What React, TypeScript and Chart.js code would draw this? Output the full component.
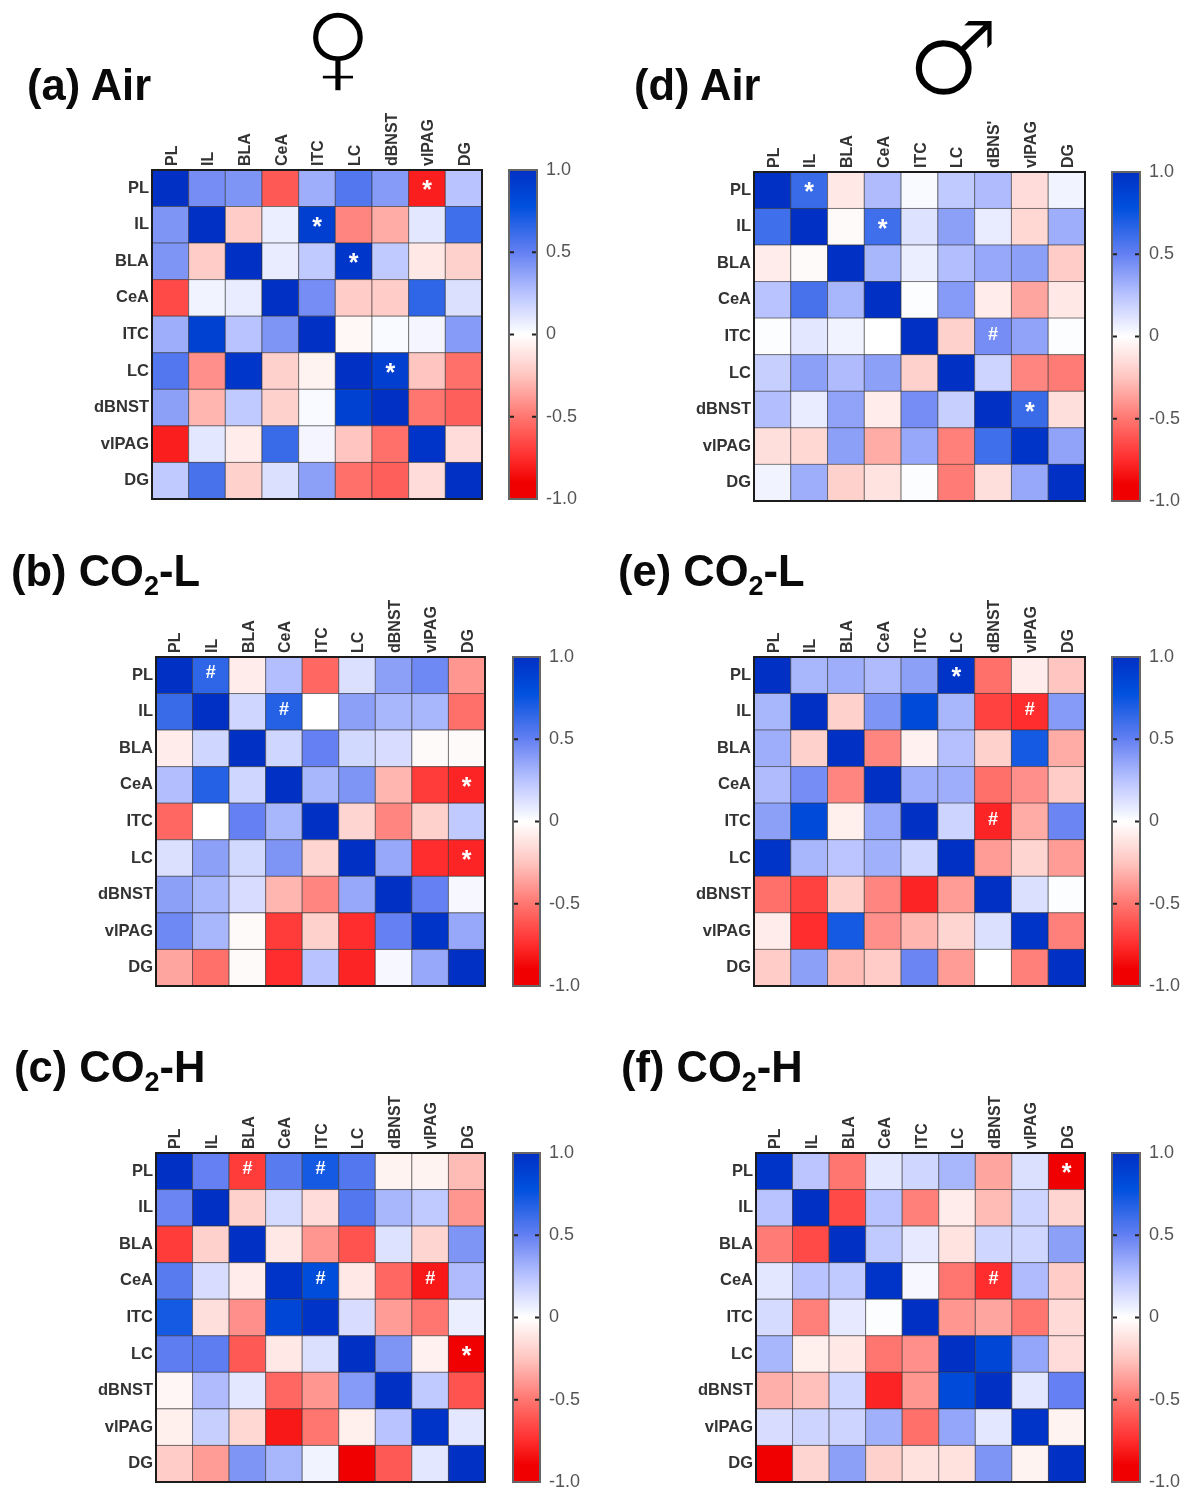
import React, { useEffect, useRef } from "react";
import { Chart, registerables } from "chart.js";

Chart.register(...registerables);

const regions = ["PL", "IL", "BLA", "CeA", "ITC", "LC", "dBNST", "vlPAG", "DG"];
const regionsTopD = ["PL", "IL", "BLA", "CeA", "ITC", "LC", "dBNS'", "vlPAG", "DG"];

const femaleAir = [
  [1, .45, .42, -.6, .33, .55, .4, -.8, .25],
  [.42, 1, -.22, .07, .9, -.45, -.33, .1, .6],
  [.42, -.22, 1, .08, .22, .95, .22, -.1, -.2],
  [-.65, .05, .08, 1, .45, -.22, -.22, .65, .13],
  [.33, .88, .25, .42, 1, -.03, .02, .04, .4],
  [.55, -.42, .95, -.2, -.05, 1, .9, -.25, -.52],
  [.38, -.3, .22, -.2, .02, .88, 1, -.5, -.58],
  [-.8, .1, -.08, .62, .04, -.25, -.52, .97, -.15],
  [.22, .58, -.2, .13, .38, -.52, -.58, -.15, 1],
];
const femaleLow = [
  [1, .65, -.08, .27, -.55, .13, .38, .47, -.4],
  [.62, 1, .17, .68, 0, .38, .3, .3, -.52],
  [-.08, .17, 1, .17, .5, .16, .14, -.02, -.02],
  [.27, .68, .17, 1, .3, .42, -.3, -.7, -.78],
  [-.55, 0, .5, .3, 1, -.18, -.45, -.2, .22],
  [.13, .38, .16, .42, -.18, 1, .35, -.75, -.78],
  [.38, .3, .14, -.3, -.45, .35, 1, .5, .03],
  [.47, .3, -.02, -.7, -.2, -.75, .5, .97, .35],
  [-.35, -.52, -.02, -.75, .25, -.78, .03, .35, 1],
];
const femaleHigh = [
  [1, .5, -.7, .53, .72, .55, -.05, -.05, -.28],
  [.48, 1, -.2, .15, -.15, .55, .3, .22, -.4],
  [-.7, -.2, 1, -.1, -.4, -.62, .12, -.18, .42],
  [.53, .14, -.08, .97, .8, -.1, -.55, -.82, .28],
  [.72, -.14, -.42, .85, .97, .14, -.38, -.5, .07],
  [.52, .52, -.6, -.1, .13, 1, .42, -.06, -1],
  [-.04, .28, .1, -.55, -.4, .4, 1, .22, -.62],
  [-.07, .2, -.17, -.82, -.5, -.07, .25, .97, .1],
  [-.22, -.38, .42, .3, .05, -1, -.6, .1, 1],
];
const maleAir = [
  [1, .62, -.1, .28, .02, .22, .28, -.15, .05],
  [.6, 1, -.02, .6, .12, .38, .08, -.17, .33],
  [-.08, -.02, 1, .3, .07, .27, .35, .38, -.22],
  [.25, .58, .3, 1, .01, .4, -.08, -.35, -.1],
  [.01, .1, .05, 0, 1, -.2, .45, .37, .01],
  [.2, .38, .28, .38, -.2, 1, .18, -.45, -.48],
  [.27, .08, .37, -.08, .45, .2, 1, .62, -.14],
  [-.14, -.17, .38, -.33, .35, -.47, .6, .97, .37],
  [.05, .33, -.2, -.12, .01, -.48, -.14, .35, 1],
];
const maleLow = [
  [1, .3, .33, .28, .38, .97, -.52, -.08, -.25],
  [.3, 1, -.2, .42, .82, .3, -.68, -.75, .4],
  [.33, -.2, 1, -.45, -.06, .26, -.2, .72, -.33],
  [.28, .45, -.45, 1, .33, .33, -.52, -.42, -.22],
  [.38, .82, -.07, .35, 1, .18, -.78, -.33, .48],
  [.97, .3, .24, .32, .17, 1, -.38, -.18, -.38],
  [-.52, -.68, -.2, -.45, -.78, -.38, 1, .13, .01],
  [-.08, -.75, .72, -.42, -.3, -.18, .13, .97, -.47],
  [-.22, .38, -.28, -.22, .48, -.38, 0, -.47, 1],
];
const maleHigh = [
  [.97, .24, -.5, .1, .17, .3, -.35, .13, -.97],
  [.25, 1, -.65, .25, -.47, -.08, -.28, .18, -.18],
  [-.48, -.65, 1, .22, .09, -.12, .17, .17, .38],
  [.1, .25, .22, .97, .03, -.5, -.75, .28, -.22],
  [.15, -.47, .09, .01, 1, -.4, -.35, -.5, -.16],
  [.3, -.07, -.1, -.5, -.42, 1, .85, .36, -.15],
  [-.32, -.27, .17, -.78, -.4, .82, 1, .1, .5],
  [.14, .18, .18, .32, -.52, .36, .1, .97, -.05],
  [-1, -.18, .38, -.2, -.13, -.13, .42, -.05, 1],
];

type Mark = [number, number, string];
const marksA: Mark[] = [[0, 7, "*"], [1, 4, "*"], [2, 5, "*"], [5, 6, "*"]];
const marksB: Mark[] = [[0, 1, "#"], [1, 3, "#"], [3, 8, "*"], [5, 8, "*"]];
const marksC: Mark[] = [[0, 2, "#"], [0, 4, "#"], [3, 4, "#"], [3, 7, "#"], [5, 8, "*"]];
const marksD: Mark[] = [[0, 1, "*"], [1, 3, "*"], [4, 6, "#"], [6, 7, "*"]];
const marksE: Mark[] = [[0, 5, "*"], [1, 7, "#"], [4, 6, "#"]];
const marksF: Mark[] = [[0, 8, "*"], [3, 6, "#"]];

const colorStops: [number, number[]][] = [
  [-1, [240, 0, 0]],
  [-.9, [240, 0, 0]],
  [-.75, [255, 45, 45]],
  [-.5, [255, 118, 112]],
  [-.25, [255, 197, 192]],
  [0, [255, 255, 255]],
  [.25, [185, 195, 255]],
  [.5, [100, 128, 242]],
  [.78, [0, 80, 222]],
  [1, [0, 48, 196]],
];

function valueColor(v: number) {
  for (let i = 1; i < colorStops.length; i++) {
    const [b, cb] = colorStops[i];
    const [a, ca] = colorStops[i - 1];
    if (v <= b) {
      const t = (v - a) / (b - a);
      const c = ca.map((x, k) => Math.round(x + (cb[k] - x) * t));
      return `rgb(${c[0]},${c[1]},${c[2]})`;
    }
  }
  return "rgb(0,48,196)";
}

const FONT = "'Liberation Sans', Arial, sans-serif";
const LEFT = 72;
const TOP = 72;

const zeroPadding = (s: any) => {
  s.paddingLeft = 0;
  s.paddingRight = 0;
  s.paddingTop = 0;
  s.paddingBottom = 0;
};

function Heatmap({ x0, x1, y0, y1, values, top, marks }: any) {
  const ref = useRef<HTMLCanvasElement>(null);
  const w = x1 - x0;
  const h = y1 - y0;
  useEffect(() => {
    const points = values.flatMap((row: number[], r: number) =>
      row.map((v, c) => ({ x: top[c], y: regions[r], v }))
    );
    const markPlugin = {
      id: "marks",
      afterDraw(chart: any) {
        const { ctx, chartArea: a, scales } = chart;
        ctx.save();
        ctx.fillStyle = "#fff";
        ctx.textAlign = "center";
        ctx.textBaseline = "alphabetic";
        for (const [r, c, s] of marks as Mark[]) {
          const px = scales.x.getPixelForValue(c);
          const py = scales.y.getPixelForValue(r);
          if (s === "*") {
            ctx.font = `bold 25px ${FONT}`;
            ctx.fillText(s, px, py + 10);
          } else {
            ctx.font = `bold 18px ${FONT}`;
            ctx.fillText(s, px, py + 3);
          }
        }
        ctx.strokeStyle = "#1c1c1c";
        ctx.lineWidth = 2;
        ctx.strokeRect(a.left, a.top, a.width, a.height);
        ctx.restore();
      },
    };
    const chart = new Chart(ref.current!, {
      type: "scatter",
      data: {
        datasets: [
          {
            data: points,
            pointStyle: "rect",
            pointRadius: (w / 9 / 2) * Math.SQRT2,
            pointBackgroundColor: (ctx: any) => (ctx.raw ? valueColor(ctx.raw.v) : "#fff"),
            pointBorderColor: "rgba(50,50,50,0.55)",
            pointBorderWidth: 1,
          } as any,
        ],
      },
      options: {
        animation: false,
        responsive: false,
        devicePixelRatio: 1,
        events: [],
        clip: false,
        layout: { autoPadding: false, padding: { right: 2, bottom: 2 } },
        plugins: { legend: { display: false }, tooltip: { enabled: false } },
        scales: {
          x: {
            type: "category",
            labels: top,
            position: "top",
            offset: true,
            afterFit: (s: any) => { s.height = TOP; zeroPadding(s); },
            grid: { display: false, drawTicks: false },
            border: { display: false },
            ticks: {
              autoSkip: false,
              maxRotation: 90,
              minRotation: 90,
              padding: 4,
              labelOffset: 21,
              color: "#333",
              font: { family: FONT, size: 16, weight: "bold" },
            },
          },
          y: {
            type: "category",
            labels: regions,
            offset: true,
            afterFit: (s: any) => { s.width = LEFT; zeroPadding(s); },
            grid: { display: false, drawTicks: false },
            border: { display: false },
            ticks: {
              autoSkip: false,
              padding: 3,
              color: "#333",
              font: { family: FONT, size: 16.5, weight: "bold" },
            },
          },
        },
      } as any,
      plugins: [markPlugin],
    });
    return () => chart.destroy();
  }, []);
  return (
    <canvas
      ref={ref}
      width={LEFT + w + 2}
      height={TOP + h + 2}
      style={{ position: "absolute", left: x0 - LEFT, top: y0 - TOP, width: LEFT + w + 2, height: TOP + h + 2, filter: "blur(0.5px)" }}
    />
  );
}

const barTicks = [-1, -0.5, 0, 0.5, 1];

function ColorBar({ x0, x1, y0, y1 }: any) {
  const ref = useRef<HTMLCanvasElement>(null);
  const pad = 14;
  const w = x1 - x0;
  const h = y1 - y0;
  const right = 46;
  useEffect(() => {
    const marksPlugin = {
      id: "barMarks",
      afterDatasetsDraw(chart: any) {
        const { ctx, chartArea: a, scales } = chart;
        ctx.save();
        ctx.fillStyle = "#222";
        for (const t of [-0.5, 0, 0.5]) {
          const py = scales.y.getPixelForValue(t);
          ctx.fillRect(a.left, py - 1, 5, 2);
          ctx.fillRect(a.right - 5, py - 1, 5, 2);
        }
        ctx.strokeStyle = "#666";
        ctx.lineWidth = 2;
        ctx.strokeRect(a.left, a.top, a.width, a.height);
        ctx.restore();
      },
    };
    const chart = new Chart(ref.current!, {
      type: "bar",
      data: {
        labels: ["r"],
        datasets: [
          {
            data: [[-1, 1]],
            barPercentage: 1,
            categoryPercentage: 1,
            backgroundColor: (ctx: any) => {
              const { chart: c } = ctx;
              if (!c.chartArea) return "#fff";
              const yS = c.scales.y;
              const g = c.ctx.createLinearGradient(0, yS.getPixelForValue(-1), 0, yS.getPixelForValue(1));
              for (const [v, col] of colorStops) {
                g.addColorStop((v + 1) / 2, `rgb(${col.join(",")})`);
              }
              return g;
            },
          } as any,
        ],
      },
      options: {
        animation: false,
        responsive: false,
        devicePixelRatio: 1,
        events: [],
        layout: { autoPadding: false, padding: { left: 2, top: pad, bottom: pad } },
        plugins: { legend: { display: false }, tooltip: { enabled: false } },
        scales: {
          x: { display: false, grid: { display: false } },
          y: {
            position: "right",
            min: -1,
            max: 1,
            afterFit: (s: any) => { s.width = right; zeroPadding(s); },
            afterBuildTicks: (s: any) => { s.ticks = barTicks.map((value) => ({ value })); },
            grid: { display: false, drawTicks: false },
            border: { display: false },
            ticks: {
              padding: 9,
              color: "#555",
              font: { family: FONT, size: 18 },
              callback: (v: any) => (Number(v) === 0 ? "0" : Number(v).toFixed(1)),
            },
          },
        },
      } as any,
      plugins: [marksPlugin],
    });
    return () => chart.destroy();
  }, []);
  return (
    <canvas
      ref={ref}
      width={2 + w + right}
      height={h + 2 * pad}
      style={{ position: "absolute", left: x0 - 2, top: y0 - pad, width: 2 + w + right, height: h + 2 * pad, filter: "blur(0.5px)" }}
    />
  );
}

function Title({ left, baseline, head, tail }: any) {
  const size = 43.5;
  return (
    <div
      style={{
        position: "absolute",
        left,
        top: baseline - 38,
        font: `bold ${size}px/48px ${FONT}`,
        color: "#0a0a0a",
        whiteSpace: "nowrap",
        filter: "blur(0.4px)",
      }}
    >
      {head}
      {tail !== undefined && (
        <>
          <span style={{ fontSize: 27, position: "relative", top: 9 }}>2</span>
          {tail}
        </>
      )}
    </div>
  );
}

function Symbol({ glyph, left, top, size }: any) {
  return (
    <div
      style={{
        position: "absolute",
        left,
        top,
        width: 120,
        textAlign: "center",
        font: `${size}px/120px 'DejaVu Sans'`,
        color: "#000",
        WebkitTextStroke: "3px #fff",
        filter: "blur(0.4px)",
      }}
    >
      {glyph}
    </div>
  );
}

const panels = [
  { x0: 152, x1: 482, y0: 170, y1: 499, cb0: 509, cb1: 537, values: femaleAir, top: regions, marks: marksA },
  { x0: 156, x1: 485, y0: 657, y1: 986, cb0: 513, cb1: 540, values: femaleLow, top: regions, marks: marksB },
  { x0: 156, x1: 485, y0: 1153, y1: 1482, cb0: 513, cb1: 540, values: femaleHigh, top: regions, marks: marksC },
  { x0: 754, x1: 1085, y0: 172, y1: 501, cb0: 1112, cb1: 1140, values: maleAir, top: regionsTopD, marks: marksD },
  { x0: 754, x1: 1085, y0: 657, y1: 986, cb0: 1112, cb1: 1140, values: maleLow, top: regions, marks: marksE },
  { x0: 756, x1: 1085, y0: 1153, y1: 1482, cb0: 1112, cb1: 1140, values: maleHigh, top: regions, marks: marksF },
];

export default function App() {
  return (
    <div style={{ position: "absolute", left: 0, top: 0, width: 1192, height: 1489, background: "#fff", overflow: "hidden" }}>
      <Title left={27} baseline={99} head="(a) Air" />
      <Title left={634} baseline={99} head="(d) Air" />
      <Title left={11} baseline={585} head="(b) CO" tail="-L" />
      <Title left={618} baseline={585} head="(e) CO" tail="-L" />
      <Title left={14} baseline={1081} head="(c) CO" tail="-H" />
      <Title left={621} baseline={1081} head="(f) CO" tail="-H" />
      <Symbol glyph="♀" left={278} top={-12} size={94} />
      <Symbol glyph="♂" left={893} top={-1} size={105} />
      {panels.map((p, i) => (
        <React.Fragment key={i}>
          <Heatmap x0={p.x0} x1={p.x1} y0={p.y0} y1={p.y1} values={p.values} top={p.top} marks={p.marks} />
          <ColorBar x0={p.cb0} x1={p.cb1} y0={p.y0} y1={p.y1} />
        </React.Fragment>
      ))}
    </div>
  );
}
